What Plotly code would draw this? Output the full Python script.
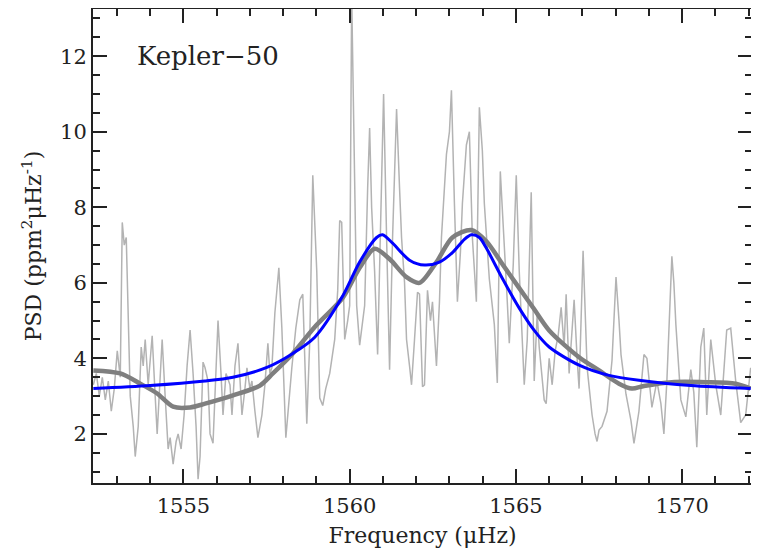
import plotly.graph_objs as go

# raw power spectrum (grey, noisy)
freq_raw = [
    1552.29, 1552.38, 1552.47, 1552.56, 1552.65, 1552.74, 1552.83, 1552.92, 1553.01, 1553.10,
    1553.16, 1553.22, 1553.28, 1553.34, 1553.40, 1553.49, 1553.55, 1553.64, 1553.73, 1553.79,
    1553.85, 1553.94, 1554.06, 1554.15, 1554.21, 1554.30, 1554.36, 1554.45, 1554.54, 1554.60,
    1554.69, 1554.78, 1554.84, 1554.93, 1555.02, 1555.11, 1555.20, 1555.29, 1555.38, 1555.44,
    1555.50, 1555.59, 1555.65, 1555.74, 1555.80, 1555.89, 1555.98, 1556.04, 1556.13, 1556.19,
    1556.28, 1556.40, 1556.46, 1556.55, 1556.64, 1556.70, 1556.76, 1556.85, 1556.91, 1557.00,
    1557.06, 1557.15, 1557.24, 1557.36, 1557.45, 1557.54, 1557.60, 1557.66, 1557.75, 1557.87,
    1557.96, 1558.08, 1558.17, 1558.26, 1558.38, 1558.50, 1558.59, 1558.71, 1558.80, 1558.89,
    1559.01, 1559.10, 1559.19, 1559.28, 1559.40, 1559.55, 1559.64, 1559.70, 1559.76, 1559.85,
    1559.94, 1560.00, 1560.06, 1560.15, 1560.21, 1560.30, 1560.45, 1560.54, 1560.60, 1560.66,
    1560.75, 1560.84, 1560.96, 1561.02, 1561.11, 1561.20, 1561.29, 1561.35, 1561.41, 1561.50,
    1561.56, 1561.65, 1561.71, 1561.80, 1561.86, 1561.95, 1562.04, 1562.10, 1562.19, 1562.25,
    1562.34, 1562.43, 1562.49, 1562.61, 1562.70, 1562.76, 1562.85, 1562.91, 1563.00, 1563.06,
    1563.15, 1563.24, 1563.33, 1563.39, 1563.51, 1563.60, 1563.69, 1563.81, 1563.90, 1563.99,
    1564.05, 1564.14, 1564.20, 1564.35, 1564.44, 1564.53, 1564.59, 1564.65, 1564.74, 1564.80,
    1564.92, 1565.01, 1565.10, 1565.19, 1565.25, 1565.34, 1565.46, 1565.55, 1565.64, 1565.70,
    1565.79, 1565.85, 1565.91, 1566.00, 1566.09, 1566.18, 1566.27, 1566.36, 1566.45, 1566.51,
    1566.60, 1566.69, 1566.75, 1566.84, 1566.90, 1567.02, 1567.08, 1567.14, 1567.29, 1567.38,
    1567.44, 1567.50, 1567.59, 1567.74, 1567.89, 1568.01, 1568.10, 1568.16, 1568.31, 1568.46,
    1568.55, 1568.64, 1568.70, 1568.85, 1568.94, 1569.09, 1569.24, 1569.36, 1569.45, 1569.54,
    1569.63, 1569.69, 1569.75, 1569.81, 1569.96, 1570.11, 1570.26, 1570.35, 1570.44, 1570.56,
    1570.65, 1570.74, 1570.86, 1571.01, 1571.16, 1571.28, 1571.34, 1571.46, 1571.61, 1571.76,
    1571.91, 1572.06,
]
psd_raw = [
    3.3, 3.6, 3.0, 3.5, 2.9, 3.4, 2.6, 3.2, 4.2, 3.5,
    7.6, 7.0, 7.2, 5.0, 3.0, 2.2, 1.4, 2.2, 4.3, 3.8,
    4.5, 3.3, 4.6, 3.0, 2.0, 3.5, 4.5, 3.0, 1.6, 1.9,
    1.2, 1.8, 2.0, 1.6, 2.5, 3.8, 4.75, 3.6, 2.2, 0.8,
    1.4, 3.9, 3.75, 3.4, 2.0, 1.75, 3.8, 5.0, 3.6, 2.5,
    3.6, 3.3, 2.5, 3.8, 4.4, 3.6, 2.5, 3.2, 3.75, 3.2,
    3.4, 2.6, 1.9, 2.5, 3.3, 4.4, 3.6, 3.75, 5.2, 6.4,
    4.8, 1.9, 2.9, 3.75, 4.8, 5.55, 5.7, 2.27, 4.5, 8.85,
    6.3, 2.95, 2.75, 3.2, 3.6, 4.5, 5.8, 7.65, 7.6, 4.5,
    5.0, 5.4, 13.6, 8.0, 5.4, 4.35, 5.4, 8.5, 10.1, 8.0,
    6.3, 4.1, 8.9, 11.0, 7.2, 3.7, 7.2, 9.0, 10.6, 8.5,
    7.2, 6.0, 4.5, 3.8, 3.3, 4.5, 5.75, 5.7, 3.25, 3.3,
    5.8, 5.0, 5.5, 3.8, 5.5, 7.2, 8.5, 9.4, 10.0, 11.1,
    8.1, 5.5, 6.8, 8.1, 9.65, 10.0, 7.2, 5.5, 10.65, 9.5,
    8.1, 7.0, 6.1, 4.9, 3.35, 8.95, 8.0, 7.2, 5.5, 4.4,
    6.5, 8.85, 6.3, 4.5, 3.3, 4.5, 8.4, 3.4, 5.2, 4.3,
    3.5, 2.9, 2.8, 4.0, 3.3, 4.2, 4.6, 5.35, 4.3, 5.7,
    3.6, 4.8, 5.55, 4.0, 3.2, 6.85, 5.0, 3.76, 2.5, 2.0,
    1.8, 2.1, 2.2, 2.6, 3.95, 6.15, 5.0, 4.1, 3.05, 2.35,
    1.75, 2.2, 2.6, 4.1, 4.0, 2.7, 3.4, 2.8, 2.0, 3.4,
    5.5, 6.7, 6.0, 4.9, 2.9, 2.45, 3.7, 3.1, 1.65, 4.3,
    4.8, 2.5, 4.5, 3.3, 2.5, 4.0, 4.75, 4.8, 3.4, 2.3,
    2.5, 3.75,
]

# smoothed spectrum (thick dark grey)
freq_smooth = [
    1552.29, 1553.10, 1553.70, 1554.21, 1554.69, 1555.20, 1555.65, 1556.49, 1557.30, 1557.69,
    1558.29, 1558.95, 1559.79, 1560.30, 1560.75, 1561.20, 1561.71, 1562.10, 1562.61, 1563.09,
    1563.66, 1564.11, 1564.59, 1565.10, 1565.55, 1566.00, 1566.90, 1567.50, 1568.10, 1568.49,
    1568.85, 1569.69, 1570.71, 1571.61, 1572.06,
]
psd_smooth = [
    3.68, 3.6, 3.33, 3.07, 2.72, 2.7, 2.8, 3.02, 3.28, 3.6,
    4.13, 4.83, 5.6, 6.4, 6.9, 6.63, 6.15, 6.0, 6.55, 7.2,
    7.4, 7.1, 6.5, 5.86, 5.3, 4.74, 4.03, 3.68, 3.33, 3.2,
    3.27, 3.37, 3.37, 3.33, 3.2,
]

# model fit (blue)
freq_fit = [
    1552.29, 1554.00, 1555.65, 1556.49, 1557.51, 1558.29, 1558.95, 1559.79, 1560.30, 1560.81,
    1560.99, 1561.29, 1561.80, 1562.25, 1562.70, 1563.09, 1563.45, 1563.66, 1563.90, 1564.11,
    1564.59, 1565.10, 1565.55, 1566.00, 1566.90, 1567.80, 1568.70, 1570.26, 1572.06,
]
psd_fit = [
    3.2, 3.28, 3.4, 3.5, 3.76, 4.13, 4.56, 5.65, 6.55, 7.2,
    7.27, 7.05, 6.6, 6.47, 6.55, 6.8, 7.15, 7.27, 7.2, 6.92,
    6.12, 5.33, 4.74, 4.3, 3.82, 3.55, 3.42, 3.28, 3.2,
]

x_range = [1552.28, 1572.1]
y_range = [0.7, 13.25]
x_ticks = [1555, 1560, 1565, 1570]
y_ticks = [2, 4, 6, 8, 10, 12]

serif = 'DejaVu Serif'
ink = '#222222'

trace_raw = go.Scatter(x=freq_raw, y=psd_raw, mode='lines',
                       line=dict(color='#b3b3b3', width=1.5), showlegend=False)
trace_smooth = go.Scatter(x=freq_smooth, y=psd_smooth, mode='lines',
                          line=dict(color='#7f7f7f', width=4.5, shape='spline', smoothing=0.8),
                          showlegend=False)
trace_fit = go.Scatter(x=freq_fit, y=psd_fit, mode='lines',
                       line=dict(color='#0000ff', width=3, shape='spline', smoothing=0.8),
                       showlegend=False)

axis_common = dict(
    showgrid=False, zeroline=False, automargin=False,
    showline=True, linecolor=ink, linewidth=2,
    ticks='inside', ticklen=14, tickwidth=1.5, tickcolor=ink,
    tickfont=dict(family=serif, size=21, color=ink),
)

# the page body adds an 8px margin, so the figure is sized to fit inside it
layout = go.Layout(
    width=751, height=547,
    margin=dict(l=85, r=7, t=1, b=72),
    plot_bgcolor='white', paper_bgcolor='white',
    xaxis=dict(axis_common, range=x_range, tickvals=x_ticks, ticklabelstandoff=3,
               minor=dict(dtick=1, tick0=1550, ticks='inside', ticklen=7, tickcolor=ink),
               title=dict(text='Frequency (μHz)', font=dict(family=serif, size=22, color=ink),
                          standoff=10)),
    yaxis=dict(axis_common, range=y_range, tickvals=y_ticks, ticklabelstandoff=0,
               minor=dict(dtick=0.5, tick0=0, ticks='inside', ticklen=7, tickcolor=ink),
               title=dict(text='PSD (ppm<sup>2</sup>μHz<sup>-1</sup>)',
                          font=dict(family=serif, size=22, color=ink), standoff=12)),
    # mirrored frame with ticks on top and right
    xaxis2=dict(axis_common, range=x_range, tickvals=x_ticks, overlaying='x', side='top',
                showticklabels=False,
                minor=dict(dtick=1, tick0=1550, ticks='inside', ticklen=7, tickcolor=ink)),
    yaxis2=dict(axis_common, range=y_range, tickvals=y_ticks, overlaying='y', side='right',
                showticklabels=False,
                minor=dict(dtick=0.5, tick0=0, ticks='inside', ticklen=7, tickcolor=ink)),
    annotations=[dict(text='Kepler−50', xref='paper', yref='paper', x=0.064, y=0.90,
                      xanchor='left', yanchor='middle', showarrow=False,
                      font=dict(family=serif, size=26, color=ink))],
)

# invisible trace to anchor the mirrored axes
trace_frame = go.Scatter(x=x_range, y=y_range, xaxis='x2', yaxis='y2', mode='lines',
                         line=dict(width=0), hoverinfo='skip', showlegend=False)

fig = go.Figure(data=[trace_raw, trace_smooth, trace_fit, trace_frame], layout=layout)
fig.write_html('out.html')
